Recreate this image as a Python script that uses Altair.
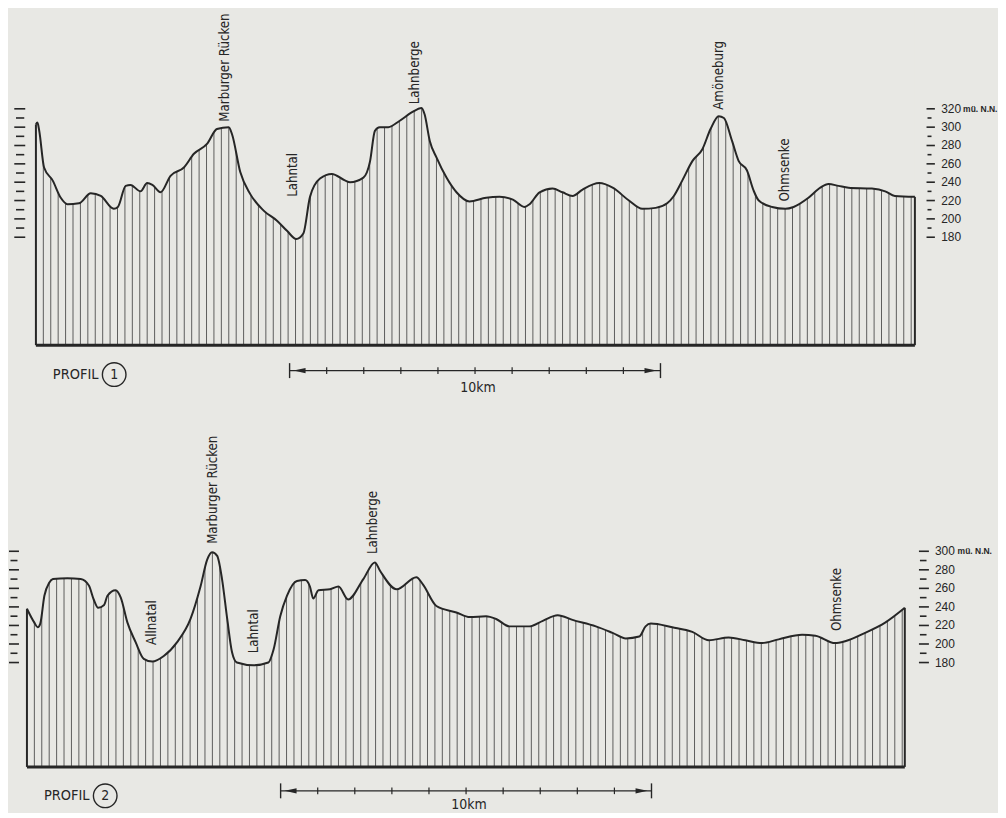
import altair as alt
import pandas as pd

BG = "#e8e8e4"
INK = "#262626"
HATCH = "#4d4d4d"
FONT = "Liberation Sans Narrow, DejaVu Sans Condensed, Roboto Condensed, Liberation Sans, sans-serif"
NUMFONT = "Liberation Sans, Arial, sans-serif"

# ---------------- Profile 1 (distance km, elevation m) ----------------
p1_km = [0.00, 0.04, 0.09, 0.22, 0.45, 0.67, 0.85, 1.16, 1.48, 1.75, 2.10, 2.21, 2.42, 2.55,
         2.82, 3.00, 3.14, 3.36, 3.63, 3.99, 4.26, 4.62, 4.88, 5.20, 5.29, 5.51, 5.78, 6.14,
         6.50, 6.77, 7.02, 7.21, 7.39, 7.66, 7.98, 8.33, 8.47, 8.83, 9.01, 9.14, 9.27, 9.50,
         9.81, 10.13, 10.40, 10.48, 10.62, 10.80, 11.07, 11.34, 11.69, 12.14, 12.50, 12.86,
         13.17, 13.31, 13.58, 13.93, 14.20, 14.47, 14.74, 15.19, 15.55, 15.99, 16.35, 16.71,
         17.02, 17.20, 17.43, 17.70, 17.97, 18.19, 18.41, 18.55, 18.77, 18.95, 19.17, 19.35,
         19.49, 19.85, 20.21, 20.43, 20.83, 21.15, 21.37, 21.64, 21.91, 22.54, 22.90, 23.16,
         23.70]
p1_elev = [303, 305, 296, 256, 242, 223, 216, 217, 228, 225, 211, 213, 236, 237,
           230, 239, 237, 229, 247, 256, 271, 282, 298, 300, 292, 251, 227, 209,
           198, 187, 178, 184, 224, 244, 249, 242, 240, 245, 263, 296, 300, 300,
           307, 316, 321, 314, 285, 267, 245, 229, 219, 223, 224, 221,
           213, 216, 229, 233, 229, 225, 232, 239, 234, 220, 211, 212,
           217, 225, 242, 263, 276, 298, 312, 310, 285, 263, 253, 231,
           220, 213, 211, 213, 223, 234, 238, 236, 234, 233, 230, 225,
           224]
p1_names = ["Marburger Rücken", "Lahntal", "Lahnberge", "Amöneburg", "Ohmsenke"]
p1_name_km = [5.11, 6.94, 10.22, 18.41, 20.21]
p1_name_elev = [306, 224, 325, 319, 219]
p1_major_ticks = [180, 200, 220, 240, 260, 280, 300, 320]
p1_minor_ticks = [190, 210, 230, 250, 270, 290, 310]

# ---------------- Profile 2 ----------------
p2_km = [0.00, 0.20, 0.29, 0.36, 0.47, 0.60, 0.70, 1.09, 1.45, 1.67, 1.80, 1.92, 2.08, 2.17,
         2.39, 2.53, 2.71, 2.93, 3.15, 3.38, 3.69, 4.05, 4.41, 4.68, 4.86, 4.99, 5.13, 5.26,
         5.40, 5.53, 5.66, 6.11, 6.51, 6.65, 6.83, 7.01, 7.28, 7.50, 7.63, 7.72, 7.86, 8.17,
         8.40, 8.66, 9.07, 9.38, 9.52, 9.97, 10.50, 10.68, 11.04, 11.58, 11.94, 12.38, 12.65,
         13.01, 13.55, 13.91, 14.31, 14.71, 15.34, 15.79, 16.15, 16.51, 16.68, 16.82, 17.40,
         17.94, 18.39, 18.92, 19.37, 19.82, 20.27, 20.90, 21.26, 21.79, 22.06, 22.60, 23.14,
         23.67]
p2_elev = [238, 223, 218, 222, 252, 266, 270, 271, 270, 263, 248, 239, 242, 252,
           258, 250, 223, 202, 184, 181, 187, 202, 227, 262, 291, 299, 295, 270,
           227, 191, 180, 177, 180, 194, 230, 252, 268, 269, 262, 249, 258, 259,
           262, 248, 270, 288, 279, 259, 272, 264, 241, 234, 229, 230, 227,
           219, 219, 225, 231, 226, 219, 212, 206, 208, 219, 222, 218,
           213, 204, 207, 204, 201, 205, 210, 209, 201, 203, 212, 223,
           239]
p2_names = ["Allnatal", "Marburger Rücken", "Lahntal", "Lahnberge", "Ohmsenke"]
p2_name_km = [3.38, 5.02, 6.11, 9.34, 21.85]
p2_name_elev = [199, 308, 190, 297, 214]
p2_major_ticks = [180, 200, 220, 240, 260, 280, 300]
p2_minor_ticks = [190, 210, 230, 250, 270, 290]

unit_text = "mü. N.N."
scale_start_km = 6.84
scale_len_km = 10
scale_label = "10km"
hatch_step_km = 0.2

W, H = 990, 401
PX_PER_KM = 37.2

P1 = dict(x0=27, y180=228.7, ppm=0.92, ybase=337,
          rmaj=(920.3, 928.7), rmin=(921.3, 925.3), labx=935, unitx=957,
          lmaj=(5.3, 16.3), lmin=(7.0, 15.3),
          ptx=44, pty=366.5, cx=105.5, cy=366.5, num="1",
          sby=362.5, sbty=380)
P2 = dict(x0=18, y180=254.3, ppm=0.93, ybase=359,
          rmaj=(912.7, 922.7), rmin=(913.7, 920.3), labx=928.7, unitx=951.5,
          lmaj=(0.0, 10.0), lmin=(1.5, 8.5),
          ptx=35, pty=388, cx=96.5, cy=388, num="2",
          sby=383, sbty=397)


def profile(km, elev, names, name_km, name_elev, major, minor, P):
    ymax = 180 + P["y180"] / P["ppm"]
    xs = alt.Scale(domain=[-P["x0"] / PX_PER_KM, (W - P["x0"]) / PX_PER_KM], nice=False, zero=False)
    ys = alt.Scale(domain=[180 - (H - P["y180"]) / P["ppm"], ymax], nice=False, zero=False)
    base = 180 - (P["ybase"] - P["y180"]) / P["ppm"]
    X = lambda f: alt.X(f, type="quantitative", scale=xs, axis=None)
    Y = lambda f: alt.Y(f, type="quantitative", scale=ys, axis=None)

    prof = pd.DataFrame({"km": km, "elev": elev})
    prof["top"] = ymax
    n_hatch = int((km[-1] - 0.05) / hatch_step_km) + 1
    hatch_df = pd.DataFrame({"km": [round(i * hatch_step_km, 3) for i in range(1, n_hatch)],
                             "lo": base, "hi": max(elev) + 5})

    layers = []
    layers.append(alt.Chart(hatch_df).mark_rule(color=HATCH, strokeWidth=0.9)
                  .encode(x=X("km"), y=Y("lo"), y2="hi"))
    # mask above the terrain line hides the hatching there
    layers.append(alt.Chart(prof).mark_area(color=BG, opacity=1, interpolate="monotone")
                  .encode(x=X("km"), y=Y("elev"), y2="top"))
    layers.append(alt.Chart(prof).mark_line(color=INK, strokeWidth=2, interpolate="monotone")
                  .encode(x=X("km"), y=Y("elev")))
    edges = pd.DataFrame({"km": [km[0], km[-1]], "lo": [base, base], "hi": [elev[0], elev[-1]]})
    layers.append(alt.Chart(edges).mark_rule(color=INK, strokeWidth=2)
                  .encode(x=X("km"), y=Y("lo"), y2="hi"))
    bl = pd.DataFrame({"a": [km[0]], "b": [km[-1]], "e": [base]})
    layers.append(alt.Chart(bl).mark_rule(color=INK, strokeWidth=3)
                  .encode(x=X("a"), x2="b", y=Y("e")))

    # elevation ticks, left (unlabelled) and right (labelled)
    for vals, (xa, xb) in ((major, P["lmaj"]), (minor, P["lmin"]),
                           (major, P["rmaj"]), (minor, P["rmin"])):
        layers.append(alt.Chart(pd.DataFrame({"e": vals})).mark_rule(color=INK, strokeWidth=1.6)
                      .encode(y=Y("e"), x=alt.value(xa), x2=alt.value(xb)))
    lab = pd.DataFrame({"e": major, "t": [str(v) for v in major]})
    layers.append(alt.Chart(lab).mark_text(align="left", baseline="middle", font=NUMFONT,
                                           fontSize=12, color=INK)
                  .encode(x=alt.value(P["labx"]), y=Y("e"), text="t:N"))
    layers.append(alt.Chart(pd.DataFrame({"e": [major[-1]], "t": [unit_text]}))
                  .mark_text(align="left", baseline="middle", font=NUMFONT, fontSize=8.5,
                             fontWeight="bold", color=INK)
                  .encode(x=alt.value(P["unitx"]), y=Y("e"), text="t:N"))

    # place names
    nm = pd.DataFrame({"km": name_km, "elev": name_elev, "t": names})
    layers.append(alt.Chart(nm).mark_text(angle=270, align="left", baseline="middle",
                                          font=FONT, fontSize=13.2, color=INK)
                  .encode(x=X("km"), y=Y("elev"), text="t:N"))

    # PROFIL label with circled number
    layers.append(alt.Chart(pd.DataFrame({"t": ["PROFIL"]}))
                  .mark_text(align="left", baseline="middle", font=FONT, fontSize=14.5, color=INK)
                  .encode(x=alt.value(P["ptx"]), y=alt.value(P["pty"]), text="t:N"))
    layers.append(alt.Chart(pd.DataFrame({"t": [P["num"]]}))
                  .mark_point(shape="circle", size=560, filled=False, strokeWidth=1.4,
                              color=INK, opacity=1)
                  .encode(x=alt.value(P["cx"]), y=alt.value(P["cy"])))
    layers.append(alt.Chart(pd.DataFrame({"t": [P["num"]]}))
                  .mark_text(align="center", baseline="middle", font=FONT, fontSize=14, color=INK)
                  .encode(x=alt.value(P["cx"]), y=alt.value(P["cy"] + 0.5), text="t:N"))

    # 10 km scale bar
    s0, s1 = scale_start_km, scale_start_km + scale_len_km
    sb = P["sby"]
    layers.append(alt.Chart(pd.DataFrame({"a": [s0], "b": [s1]})).mark_rule(color=INK, strokeWidth=1.2)
                  .encode(x=X("a"), x2="b", y=alt.value(sb)))
    layers.append(alt.Chart(pd.DataFrame({"km": [s0 + i for i in range(1, scale_len_km)]}))
                  .mark_rule(color=INK, strokeWidth=1.2)
                  .encode(x=X("km"), y=alt.value(sb - 3.3), y2=alt.value(sb + 3.3)))
    layers.append(alt.Chart(pd.DataFrame({"km": [s0, s1]}))
                  .mark_rule(color=INK, strokeWidth=1.4)
                  .encode(x=X("km"), y=alt.value(sb - 7.5), y2=alt.value(sb + 7.5)))
    layers.append(alt.Chart(pd.DataFrame({"km": [s0]}))
                  .mark_point(shape="M -1 0 L 1 -0.45 L 1 0.45 Z", size=144, filled=True,
                              color=INK, opacity=1, xOffset=10)
                  .encode(x=X("km"), y=alt.value(sb)))
    layers.append(alt.Chart(pd.DataFrame({"km": [s1]}))
                  .mark_point(shape="M 1 0 L -1 -0.45 L -1 0.45 Z", size=144, filled=True,
                              color=INK, opacity=1, xOffset=-10)
                  .encode(x=X("km"), y=alt.value(sb)))
    layers.append(alt.Chart(pd.DataFrame({"km": [s0 + scale_len_km / 2], "t": [scale_label]}))
                  .mark_text(align="center", baseline="middle", font=FONT, fontSize=14,
                             color=INK, xOffset=3)
                  .encode(x=X("km"), y=alt.value(P["sbty"]), text="t:N"))

    return alt.layer(*layers).properties(width=W, height=H)


c1 = profile(p1_km, p1_elev, p1_names, p1_name_km, p1_name_elev, p1_major_ticks, p1_minor_ticks, P1)
c2 = profile(p2_km, p2_elev, p2_names, p2_name_km, p2_name_elev, p2_major_ticks, p2_minor_ticks, P2)

chart = (alt.vconcat(c1, c2, spacing=0)
         .properties(background=BG, padding=0)
         .configure_view(stroke=None))

chart.save("out.html", embed_options={"renderer": "svg", "actions": False})
